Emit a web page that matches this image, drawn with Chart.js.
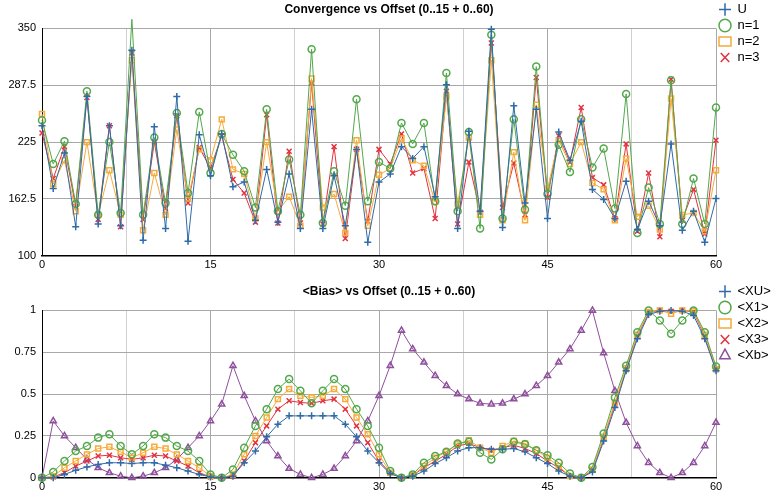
<!DOCTYPE html>
<html lang="en">
<head>
<meta charset="UTF-8">
<title>Convergence and Bias vs Offset</title>
<script src="https://cdn.jsdelivr.net/npm/chart.js"></script>
<style>
  body { margin: 0; background: #fff; font-family: "Liberation Sans", Arial, sans-serif; }
  .box { position: absolute; left: 0; width: 778px; }
  #top { top: 0; height: 275px; }
  #bot { top: 282px; height: 215px; }
</style>
</head>
<body>
<div class="box" id="top"><canvas id="convChart"></canvas></div>
<div class="box" id="bot"><canvas id="biasChart"></canvas></div>
<script>
// offsets 0..60
const offsets = Array.from({ length: 61 }, (_, i) => i);

// top chart: convergence
const convU  = [243,174,213,132,275,135,243,133,326,117,242,130,275,116,233,188,234,176,181,139,195,137,190,130,261,130,188,133,217,115,181,190,220,207,220,165,288,130,237,149,349,131,265,158,261,141,236,205,248,173,162,141,182,129,160,133,223,128,149,115,163];
const convN1 = [249,201,226,157,281,145,225,147,360,145,230,158,257,169,258,191,234,211,193,153,261,149,206,145,327,136,193,155,272,160,203,196,246,223,246,160,301,149,236,130,343,141,250,151,308,168,222,192,250,197,218,152,278,125,175,135,293,135,185,135,263];
const convN2 = [256,179,205,149,225,145,194,145,315,128,191,145,239,163,217,205,250,195,190,141,225,149,165,133,295,153,168,125,227,133,189,196,229,205,199,159,275,157,230,145,315,139,214,139,266,174,227,201,225,180,173,139,207,143,155,129,273,145,147,127,194];
const convN3 = [235,185,220,154,274,140,243,132,323,140,225,152,254,158,219,196,232,184,169,137,255,136,215,136,290,135,220,119,217,138,217,201,234,191,196,141,281,135,203,148,334,153,202,145,296,164,232,203,263,186,178,141,223,127,191,121,294,139,173,124,227];

// bottom chart: mean bias
const biasXU = [0,0,0.02,0.045,0.065,0.08,0.09,0.09,0.085,0.09,0.09,0.075,0.06,0.04,0.02,0.005,0,0.01,0.09,0.16,0.245,0.32,0.37,0.37,0.37,0.37,0.37,0.32,0.245,0.16,0.09,0.025,0,0.01,0.04,0.085,0.12,0.16,0.18,0.18,0.17,0.17,0.175,0.155,0.12,0.085,0.04,0.01,0,0.035,0.22,0.42,0.64,0.83,0.975,0.995,1,0.995,0.97,0.83,0.64];
const biasX1 = [0,0.035,0.1,0.16,0.19,0.24,0.26,0.19,0.14,0.19,0.26,0.24,0.19,0.16,0.1,0.02,0,0.05,0.18,0.31,0.41,0.53,0.59,0.52,0.445,0.52,0.59,0.53,0.41,0.31,0.18,0.04,0,0.02,0.09,0.13,0.155,0.205,0.215,0.15,0.11,0.17,0.215,0.2,0.165,0.135,0.09,0.025,0,0.065,0.265,0.48,0.67,0.87,1,0.94,0.86,0.94,1,0.87,0.665];
const biasX2 = [0,0.01,0.06,0.1,0.14,0.175,0.185,0.155,0.12,0.15,0.185,0.175,0.14,0.1,0.06,0.01,0,0.02,0.14,0.25,0.36,0.47,0.53,0.49,0.48,0.49,0.53,0.47,0.36,0.26,0.14,0.03,0,0.015,0.07,0.12,0.155,0.2,0.225,0.18,0.15,0.19,0.22,0.205,0.165,0.12,0.07,0.01,0,0.05,0.245,0.45,0.655,0.855,0.99,1,0.98,1,0.995,0.855,0.65];
const biasX3 = [0,0.005,0.03,0.07,0.1,0.13,0.135,0.12,0.11,0.12,0.135,0.13,0.1,0.07,0.03,0.005,0,0.01,0.1,0.21,0.31,0.41,0.46,0.45,0.445,0.46,0.47,0.41,0.31,0.21,0.1,0.03,0,0.015,0.06,0.1,0.14,0.19,0.205,0.18,0.165,0.18,0.195,0.175,0.145,0.1,0.06,0.01,0,0.045,0.235,0.44,0.645,0.845,0.985,1,0.995,1,0.99,0.845,0.645];
const biasXb = [0,0.34,0.25,0.18,0.11,0.06,0.03,0.01,0,0.01,0.03,0.06,0.11,0.18,0.25,0.34,0.44,0.67,0.49,0.34,0.22,0.13,0.055,0.02,0,0.02,0.055,0.13,0.22,0.34,0.49,0.67,0.88,0.77,0.69,0.61,0.55,0.5,0.47,0.445,0.44,0.445,0.47,0.5,0.55,0.61,0.69,0.77,0.88,1,0.745,0.52,0.33,0.19,0.09,0.03,0,0.03,0.09,0.19,0.33];

const BLUE = '#2f6ba8', GREEN = '#52a84a', ORANGE = '#f6ab3a', RED = '#e3323e', PURPLE = '#8e4f9c';

function series(label, values, color, style) {
  return {
    label,
    data: values.map((v, i) => ({ x: offsets[i], y: v })),
    borderColor: color,
    backgroundColor: 'rgba(255,255,255,0)',
    pointBorderColor: color,
    pointBackgroundColor: 'rgba(255,255,255,0)',
    borderWidth: 1,
    pointBorderWidth: 1.5,
    pointRadius: 3.5,
    pointStyle: style,
    clip: false
  };
}

// keep the legend column a fixed width so both plots end at the same x
const fixedLegend = {
  id: 'fixedLegend',
  afterInit(chart) {
    const lg = chart.legend;
    const fit = lg.fit.bind(lg);
    lg.fit = function () { fit(); this.width = 62; };
  }
};

function makeChart(id, title, datasets, ymin, ymax, ystep, yfmt) {
  return new Chart(document.getElementById(id), {
    type: 'line',
    data: { datasets },
    plugins: [fixedLegend],
    options: {
      responsive: true,
      maintainAspectRatio: false,
      animation: false,
      layout: { padding: 0 },
      plugins: {
        title: { display: true, text: title, color: '#000', font: { size: 12, weight: 'bold' }, padding: { top: 2, bottom: 12 } },
        legend: {
          position: 'right', align: 'start',
          labels: { usePointStyle: true, pointStyleWidth: 12, boxHeight: 9, color: '#000', font: { size: 13 }, padding: 3 }
        },
        tooltip: { enabled: false }
      },
      scales: {
        x: {
          type: 'linear', min: 0, max: 60,
          ticks: { stepSize: 7.5, autoSkip: false, maxRotation: 0, color: '#000', font: { size: 11 },
                   callback: v => (v % 15 === 0 ? v : '') },
          grid: { color: ctx => (ctx.tick && ctx.tick.value % 15 === 0 ? '#a8a8a8' : '#d0d0d0'), drawTicks: false },
          border: { color: '#000', width: 1.5 }
        },
        y: {
          min: ymin, max: ymax,
          afterFit: s => { s.width = 42; },
          ticks: { stepSize: ystep, color: '#000', font: { size: 11 }, callback: yfmt, padding: 6 },
          grid: { color: '#a8a8a8', drawTicks: false },
          border: { color: '#000', width: 1 }
        }
      }
    }
  });
}

makeChart('convChart', 'Convergence vs Offset (0..15 + 0..60)', [
  series('U', convU, BLUE, 'cross'),
  series('n=1', convN1, GREEN, 'circle'),
  series('n=2', convN2, ORANGE, 'rect'),
  series('n=3', convN3, RED, 'crossRot')
], 100, 350, 62.5, v => v);

makeChart('biasChart', '<Bias> vs Offset (0..15 + 0..60)', [
  series('<XU>', biasXU, BLUE, 'cross'),
  series('<X1>', biasX1, GREEN, 'circle'),
  series('<X2>', biasX2, ORANGE, 'rect'),
  series('<X3>', biasX3, RED, 'crossRot'),
  series('<Xb>', biasXb, PURPLE, 'triangle')
], 0, 1, 0.25, v => v);
</script>
</body>
</html>
